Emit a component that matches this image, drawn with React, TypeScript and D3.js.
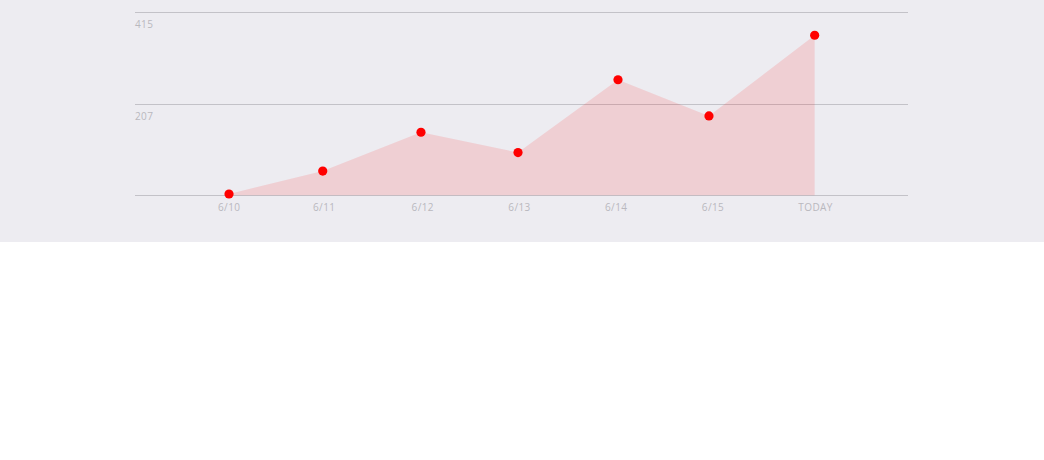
import React, { useEffect, useRef } from "react";
import * as d3 from "d3";

const dates = [
  "2016-06-10T01:21",
  "2016-06-11T00:38",
  "2016-06-12T01:02",
  "2016-06-13T01:08",
  "2016-06-14T01:58",
  "2016-06-15T00:34",
  "2016-06-16T02:49",
];
const values = [3, 55, 143, 97, 262, 180, 363];
const tickDates = [
  "2016-06-10T01:24",
  "2016-06-11T01:00",
  "2016-06-12T01:28",
  "2016-06-13T01:30",
  "2016-06-14T01:31",
  "2016-06-15T01:34",
  "2016-06-16T03:02",
];
const tickLabels = ["6/10", "6/11", "6/12", "6/13", "6/14", "6/15", "TODAY"];
const yTicks = [0, 207, 415];
const domainStart = "2016-06-09T02:00";
const domainEnd = "2016-06-17T02:00";

const W = 1044;
const H = 460;

export default function App() {
  const ref = useRef<SVGSVGElement | null>(null);

  useEffect(() => {
    const svg = d3.select(ref.current);
    svg.selectAll("*").remove();

    const parse = d3.timeParse("%Y-%m-%dT%H:%M");
    const data = dates.map((d, i) => ({ t: parse(d) as Date, v: values[i] }));
    const ticks = tickDates.map((d, i) => ({ t: parse(d) as Date, label: tickLabels[i] }));

    const x = d3
      .scaleTime()
      .domain([parse(domainStart) as Date, parse(domainEnd) as Date])
      .range([135, 908]);
    const y = d3.scaleLinear().domain([0, 415]).range([195.3, 12.3]);

    svg.append("rect").attr("x", 0).attr("y", 0).attr("width", W).attr("height", 242).attr("fill", "#edecf1");

    // gridlines
    svg
      .append("g")
      .selectAll("line")
      .data(yTicks)
      .join("line")
      .attr("x1", 135)
      .attr("x2", 908)
      .attr("y1", (d) => Math.round(y(d)) + 0.5)
      .attr("y2", (d) => Math.round(y(d)) + 0.5)
      .attr("stroke", "#c3c2c8")
      .attr("stroke-width", 1);

    // y labels
    svg
      .append("g")
      .selectAll("text")
      .data(yTicks.filter((d) => d > 0))
      .join("text")
      .attr("x", 135)
      .attr("y", (d) => y(d) + 16)
      .attr("fill", "#b9b8be")
      .attr("font-family", "'Open Sans', sans-serif")
      .attr("font-size", 10)
      .attr("letter-spacing", 0.4)
      .text((d) => String(d));

    // area
    const area = d3
      .area<{ t: Date; v: number }>()
      .x((d) => x(d.t))
      .y0(y(0))
      .y1((d) => y(d.v));
    svg.append("path").datum(data).attr("d", area).attr("fill", "#ff0000").attr("fill-opacity", 0.12);

    // dots
    svg
      .append("g")
      .selectAll("circle")
      .data(data)
      .join("circle")
      .attr("cx", (d) => x(d.t))
      .attr("cy", (d) => y(d.v))
      .attr("r", 4.6)
      .attr("fill", "#ff0000");

    // x labels
    svg
      .append("g")
      .selectAll("text")
      .data(ticks)
      .join("text")
      .attr("x", (d) => x(d.t))
      .attr("y", 210.7)
      .attr("text-anchor", "middle")
      .attr("fill", "#b9b8be")
      .attr("font-family", "'Open Sans', sans-serif")
      .attr("font-size", 10)
      .attr("letter-spacing", 0.4)
      .text((d) => d.label);
  }, []);

  return (
    <svg
      ref={ref}
      width={W}
      height={H}
      style={{ position: "absolute", left: 0, top: 0, background: "#ffffff" }}
    />
  );
}
